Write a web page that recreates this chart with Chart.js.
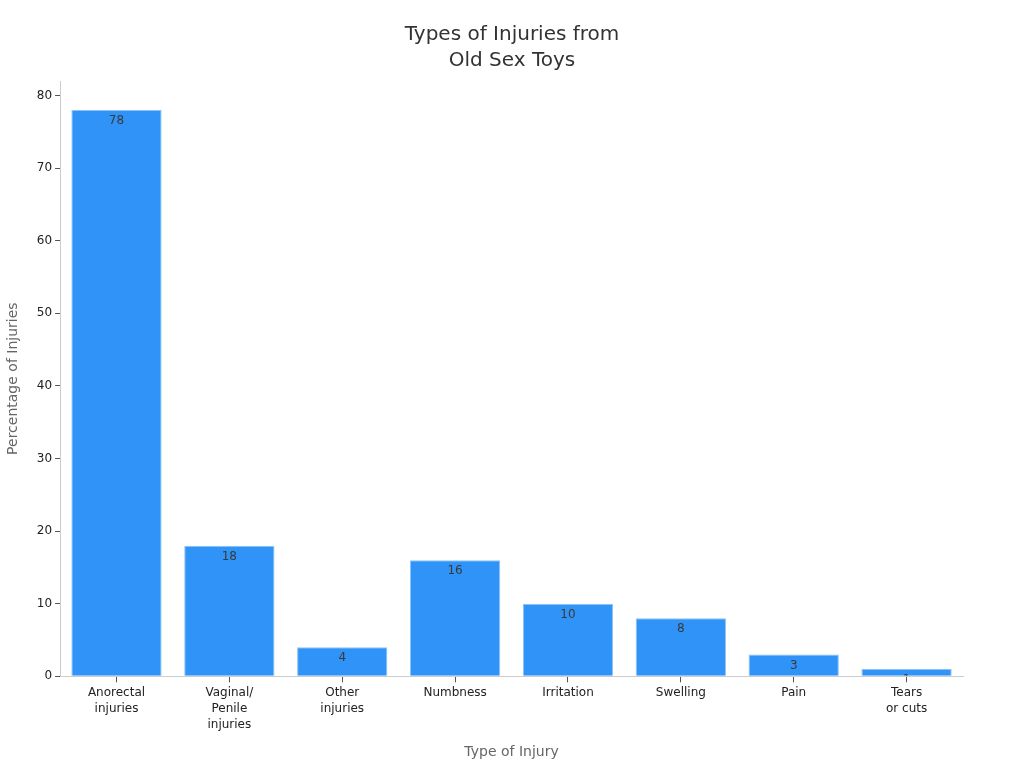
<!DOCTYPE html>
<html>
<head>
<meta charset="utf-8">
<script src="https://cdn.jsdelivr.net/npm/chart.js@4"></script>
<style>
  html, body { margin: 0; padding: 0; background: #fff; }
  #wrap { width: 1024px; height: 768px; }
</style>
</head>
<body>
<div id="wrap"><canvas id="c" width="1024" height="768"></canvas></div>
<script>
// chart data
const categories = [
  ['Anorectal', 'injuries'],
  ['Vaginal/', 'Penile', 'injuries'],
  ['Other', 'injuries'],
  'Numbness',
  'Irritation',
  'Swelling',
  'Pain',
  ['Tears', 'or cuts']
];
const percentages = [78, 18, 4, 16, 10, 8, 3, 1];
const yTicks = [0, 10, 20, 30, 40, 50, 60, 70, 80];

const FONT = "'DejaVu Sans', sans-serif";

// value labels inside the top of each bar, clipped to the bar
const barLabels = {
  id: 'barLabels',
  afterLayout(chart) {
    // centre the title on the whole canvas, not the padded box
    const t = chart.titleBlock;
    if (t) { t.left = 0; t.right = chart.width; t.width = chart.width; }
  },
  afterDatasetsDraw(chart) {
    const ctx = chart.ctx;
    const meta = chart.getDatasetMeta(0);
    ctx.save();
    ctx.font = '12px ' + FONT;
    ctx.fillStyle = '#3a3a3a';
    ctx.textAlign = 'center';
    ctx.textBaseline = 'middle';
    meta.data.forEach((bar, i) => {
      const p = bar.getProps(['x', 'y', 'base', 'width'], true);
      ctx.save();
      ctx.beginPath();
      ctx.rect(p.x - p.width / 2, p.y, p.width, p.base - p.y);
      ctx.clip();
      ctx.fillText(String(percentages[i]), p.x, p.y + 11);
      ctx.restore();
    });
    ctx.restore();
  }
};

new Chart(document.getElementById('c'), {
  type: 'bar',
  data: {
    labels: categories,
    datasets: [{
      data: percentages,
      backgroundColor: '#2f93f7',
      borderColor: '#8cc3f6',
      borderWidth: 1,
      categoryPercentage: 0.8,
      barPercentage: 1.0
    }]
  },
  options: {
    responsive: false,
    animation: false,
    layout: { padding: { top: 10, right: 61, bottom: 7, left: 5 } },
    plugins: {
      legend: { display: false },
      tooltip: { enabled: false },
      title: {
        display: true,
        text: ['Types of Injuries from', 'Old Sex Toys'],
        font: { family: FONT, size: 20, weight: 'normal', lineHeight: 1.3 },
        color: '#333',
        padding: { top: 12, bottom: 7 }
      }
    },
    scales: {
      x: {
        grid: { display: true, offset: false, drawOnChartArea: false, drawTicks: true, tickLength: 6, color: '#555' },
        border: { color: '#cccccc' },
        ticks: { font: { family: FONT, size: 12, lineHeight: 1.33 }, color: '#222', maxRotation: 0, autoSkip: false, padding: 3 },
        title: {
          display: true,
          text: 'Type of Injury',
          font: { family: FONT, size: 14 },
          color: '#666',
          padding: { top: 8, bottom: 0 }
        }
      },
      y: {
        min: 0,
        max: 82,
        afterBuildTicks(axis) { axis.ticks = yTicks.map(v => ({ value: v })); },
        grid: { display: true, drawOnChartArea: false, drawTicks: true, tickLength: 5, color: '#555' },
        border: { color: '#cccccc' },
        ticks: { font: { family: FONT, size: 12 }, color: '#222', padding: 3 },
        title: {
          display: true,
          text: 'Percentage of Injuries',
          font: { family: FONT, size: 14 },
          color: '#666',
          padding: { top: 0, bottom: 12 }
        }
      }
    }
  },
  plugins: [barLabels]
});
</script>
</body>
</html>
